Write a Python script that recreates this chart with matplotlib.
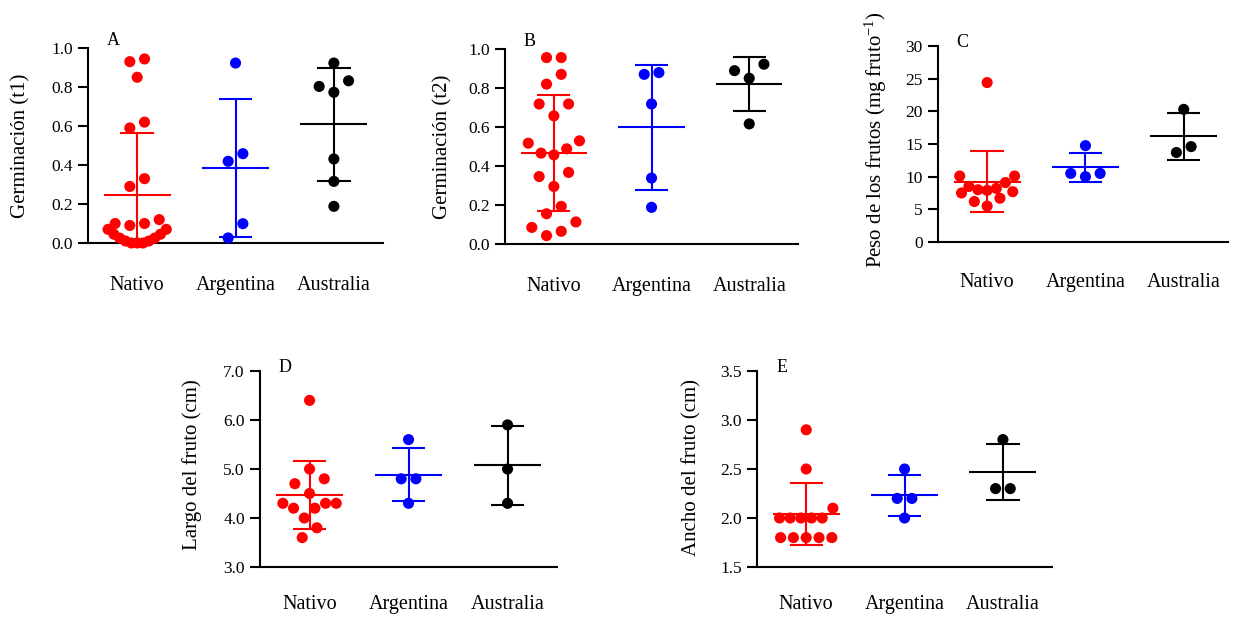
import matplotlib
matplotlib.use("Agg")
import matplotlib.pyplot as plt
import numpy as np

plt.rcParams['font.family'] = ['Liberation Serif', 'DejaVu Serif']
plt.rcParams['mathtext.fontset'] = 'custom'
plt.rcParams['mathtext.rm'] = 'Liberation Serif'
plt.rcParams['mathtext.it'] = 'Liberation Serif:italic'

groups = ['Nativo', 'Argentina', 'Australia']
colors = ['#ff0000', '#0000ff', '#000000']

# A - Germinacion (t1)
t1_nativo = [0.944, 0.93, 0.85, 0.62, 0.59, 0.33, 0.29, 0.12, 0.10, 0.09, 0.10,
             0.07, 0.07, 0.045, 0.045, 0.025, 0.025, 0.01, 0.01, 0.0, 0.0, 0.0]
t1_argentina = [0.923, 0.458, 0.419, 0.099, 0.026]
t1_australia = [0.923, 0.803, 0.773, 0.832, 0.431, 0.316, 0.188]
t1_mean = [0.244, 0.386, 0.61]
t1_sd = [0.32, 0.355, 0.29]

# B - Germinacion (t2)
t2_nativo = [0.956, 0.956, 0.87, 0.82, 0.718, 0.718, 0.657, 0.517, 0.529, 0.466,
             0.457, 0.488, 0.367, 0.346, 0.295, 0.193, 0.155, 0.113, 0.085, 0.065, 0.043]
t2_argentina = [0.879, 0.87, 0.718, 0.338, 0.188]
t2_australia = [0.889, 0.85, 0.922, 0.616]
t2_mean = [0.468, 0.598, 0.82]
t2_sd = [0.297, 0.32, 0.137]

# C - Peso de los frutos
peso_nativo = [24.4, 10.1, 10.1, 9.1, 8.2, 7.9, 8.0, 8.5, 7.7, 6.7, 5.5, 6.2, 7.5]
peso_argentina = [14.75, 10.5, 10.0, 10.5]
peso_australia = [20.3, 14.6, 13.7]
peso_mean = [9.23, 11.44, 16.18]
peso_sd = [4.7, 2.19, 3.62]

# D - Largo del fruto
largo_nativo = [6.4, 5.0, 4.8, 4.7, 4.5, 4.3, 4.3, 4.3, 4.2, 4.2, 4.0, 3.8, 3.6]
largo_argentina = [5.6, 4.8, 4.8, 4.3]
largo_australia = [5.9, 5.0, 4.3]
largo_mean = [4.47, 4.88, 5.075]
largo_sd = [0.70, 0.54, 0.805]

# E - Ancho del fruto
ancho_nativo = [2.9, 2.5, 2.1, 2.0, 2.0, 2.0, 2.0, 2.0, 1.8, 1.8, 1.8, 1.8, 1.8]
ancho_argentina = [2.5, 2.2, 2.2, 2.0]
ancho_australia = [2.8, 2.3, 2.3]
ancho_mean = [2.04, 2.23, 2.47]
ancho_sd = [0.32, 0.21, 0.29]

W, H = 12.36, 6.18
fig = plt.figure(figsize=(W, H), dpi=100)


def swarm(values, px_per_unit, row_h=15, step=14.7, half_w=32):
    # Prism-like dot plot: bin close values into rows, spread rows around the centre
    values = np.asarray(values, dtype=float)
    order = np.argsort(values, kind='stable')
    offs = np.zeros(len(values))
    i = 0
    while i < len(order):
        start = values[order[i]] * px_per_unit
        row = [order[i]]
        j = i + 1
        while j < len(order) and values[order[j]] * px_per_unit - start <= row_h:
            row.append(order[j])
            j += 1
        n = len(row)
        s = min(step, 2 * half_w / n)
        for k, idx in enumerate(row):
            if n % 2:
                m = (k + 1) // 2
                sign = -1 if k % 2 else 1
            else:
                m = k // 2 + 0.5
                sign = -1 if k % 2 == 0 else 1
            offs[idx] = sign * m * s
        i = j
    return offs


def panel(rect, data, means, sds, ylim, yticks, fmt, ylabel, letter,
          xlim=(-0.5, 2.5), label_x=-0.22, label_y=0.5, xpad=22, letter_y=1.03):
    ax = fig.add_axes(rect)
    ax.set_xlim(*xlim)
    ax.set_ylim(*ylim)
    ax_w = rect[2] * W * 100
    ax_h = rect[3] * H * 100
    px_x = ax_w / (xlim[1] - xlim[0])
    px_y = ax_h / (ylim[1] - ylim[0])
    for i, (vals, m, sd, c) in enumerate(zip(data, means, sds, colors)):
        ax.vlines(i, m - sd, m + sd, color=c, lw=1.5, zorder=2)
        ax.hlines([m - sd, m + sd], i - 0.17, i + 0.17, color=c, lw=1.5, zorder=2)
        ax.hlines(m, i - 0.34, i + 0.34, color=c, lw=1.5, zorder=2)
        xs = i + swarm(vals, px_y) / px_x
        ax.scatter(xs, vals, s=64, color=c, edgecolors='none', zorder=3, clip_on=False)
    ax.set_yticks(yticks)
    ax.set_yticklabels([fmt.format(t) for t in yticks], fontsize=12.5)
    ax.set_xticks(range(3))
    ax.set_xticklabels(groups, fontsize=14.5)
    ax.tick_params(axis='y', direction='out', length=7, width=1.5, pad=4)
    ax.tick_params(axis='x', length=0, pad=xpad)
    for sp in ['top', 'right']:
        ax.spines[sp].set_visible(False)
    for sp in ['left', 'bottom']:
        ax.spines[sp].set_linewidth(1.5)
    ax.set_ylabel(ylabel, fontsize=15)
    ax.yaxis.label.set_verticalalignment('center')
    ax.yaxis.set_label_coords(label_x, label_y)
    ax.text(0.085, letter_y, letter, transform=ax.transAxes, fontsize=13,
            ha='center', va='center')
    return ax


panel([0.0712, 0.6068, 0.2387, 0.3155], [t1_nativo, t1_argentina, t1_australia],
      t1_mean, t1_sd, (0, 1.0), np.arange(0, 1.01, 0.2), '{:.1f}',
      'Germinación (t1)', 'A', label_x=-0.228, xpad=24, letter_y=1.04)
panel([0.4086, 0.6052, 0.2371, 0.3155], [t2_nativo, t2_argentina, t2_australia],
      t2_mean, t2_sd, (0, 1.0), np.arange(0, 1.01, 0.2), '{:.1f}',
      'Germinación (t2)', 'B', label_x=-0.213, xpad=24, letter_y=1.04)
panel([0.7589, 0.6084, 0.2346, 0.3172], [peso_nativo, peso_argentina, peso_australia],
      peso_mean, peso_sd, (0, 30), np.arange(0, 31, 5), '{:.0f}',
      'Peso de los frutos (mg fruto$^{-1}$)', 'C', xlim=(-0.5, 2.45),
      label_x=-0.215, label_y=0.52, xpad=22, letter_y=1.02)
panel([0.2104, 0.0825, 0.2403, 0.3172], [largo_nativo, largo_argentina, largo_australia],
      largo_mean, largo_sd, (3.0, 7.0), np.arange(3.0, 7.01, 1.0), '{:.1f}',
      'Largo del fruto (cm)', 'D', label_x=-0.23, label_y=0.52, xpad=20, letter_y=1.02)
panel([0.6125, 0.0825, 0.2387, 0.3172], [ancho_nativo, ancho_argentina, ancho_australia],
      ancho_mean, ancho_sd, (1.5, 3.5), np.arange(1.5, 3.51, 0.5), '{:.1f}',
      'Ancho del fruto (cm)', 'E', label_x=-0.221, label_y=0.51, xpad=20, letter_y=1.02)

fig.savefig('out.png', dpi=100)
